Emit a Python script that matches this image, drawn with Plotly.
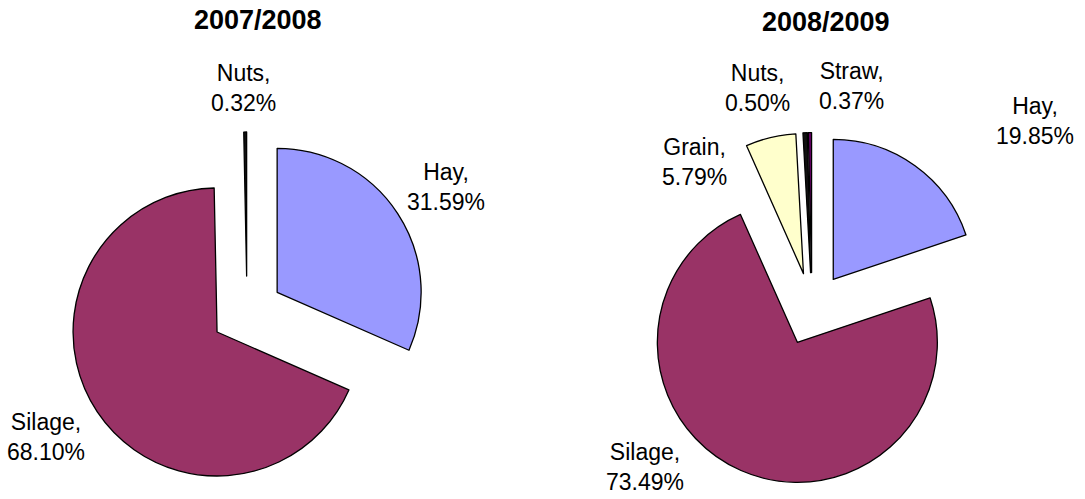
import plotly.graph_objects as go

W, H = 1085, 499

# Data
titles = ["2007/2008", "2008/2009"]
labels_0708 = ["Hay", "Silage", "Nuts"]
values_0708 = [31.59, 68.10, 0.32]
colors_0708 = ["#9999FF", "#993366", "#111111"]

labels_0809 = ["Hay", "Silage", "Grain", "Nuts", "Straw"]
values_0809 = [19.85, 73.49, 5.79, 0.50, 0.37]
colors_0809 = ["#9999FF", "#993366", "#FFFFCC", "#111111", "#660066"]

# label centre positions in pixels (layout only)
lblpos_0708 = [(446, 187), (46, 437), (243, 88)]
lblpos_0809 = [(1035, 121), (645, 467), (694, 162), (757, 88), (851, 86)]
title_pos = [(258, 20), (826, 22)]

FONT = "Liberation Sans, Arial, sans-serif"


def px_dom(cx, cy, half):
    x0, x1 = (cx - half) / W, (cx + half) / W
    y0, y1 = 1 - (cy + half) / H, 1 - (cy - half) / H
    return dict(x=[x0, x1], y=[y0, y1])


fig = go.Figure()

pull = 0.25
fig.add_trace(go.Pie(
    labels=labels_0708, values=values_0708, sort=False, direction="clockwise",
    rotation=0, pull=[pull] * len(values_0708), textinfo="none", hoverinfo="label+value",
    marker=dict(colors=colors_0708, line=dict(color="black", width=1.3)),
    domain=px_dom(247, 312, 144 * (1 + pull)), showlegend=False,
))
pull2 = 0.26
fig.add_trace(go.Pie(
    labels=labels_0809, values=values_0809, sort=False, direction="clockwise",
    rotation=0, pull=[pull2] * len(values_0809), textinfo="none", hoverinfo="label+value",
    marker=dict(colors=colors_0809, line=dict(color="black", width=1.3)),
    domain=px_dom(812, 309, 140 * (1 + pull2)), showlegend=False,
))

annotations = []
for labs, vals, poss in [(labels_0708, values_0708, lblpos_0708),
                         (labels_0809, values_0809, lblpos_0809)]:
    for lab, val, (x, y) in zip(labs, vals, poss):
        annotations.append(dict(
            x=x / W, y=1 - y / H, xref="paper", yref="paper", showarrow=False,
            text=f"{lab},<br>{val:.2f}%", align="center",
            font=dict(family=FONT, size=23, color="black"),
            xanchor="center", yanchor="middle",
        ))
for t, (x, y) in zip(titles, title_pos):
    annotations.append(dict(
        x=x / W, y=1 - y / H, xref="paper", yref="paper", showarrow=False,
        text=f"<b>{t}</b>", font=dict(family=FONT, size=27, color="black"),
        xanchor="center", yanchor="middle",
    ))

fig.update_layout(
    width=W, height=H, margin=dict(l=0, r=0, t=0, b=0),
    paper_bgcolor="white", plot_bgcolor="white",
    annotations=annotations,
)

fig.write_html("out.html")
